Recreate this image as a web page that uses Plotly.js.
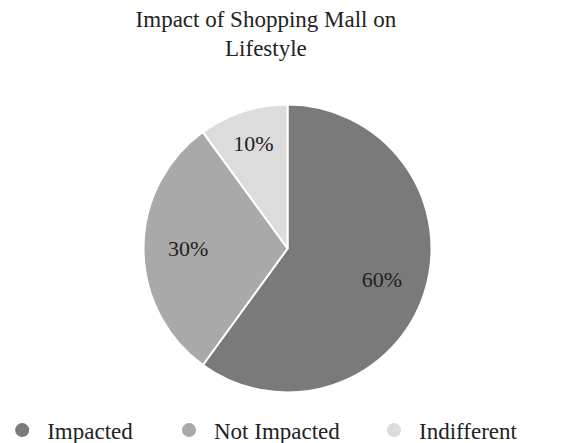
<!DOCTYPE html>
<html>
<head>
<meta charset="utf-8">
<script src="https://cdn.plot.ly/plotly-3.0.1.min.js"></script>
<style>html,body{margin:0;padding:0;background:#fff;}#chart{width:561px;height:443px;}</style>
</head>
<body>
<div id="chart"></div>
<script>
const titleText = 'Impact of Shopping Mall on<br>Lifestyle';
const labels = ['Impacted', 'Not Impacted', 'Indifferent'];
const values = [60, 30, 10];
const colors = ['#7a7a7a', '#a9a9a9', '#dcdcdc'];

const FONT = 'Liberation Serif, Times New Roman, serif';
const DOMAIN = {x: [0.2558, 0.7692], y: [0.114, 0.764]};

const traces = [{
  type: 'pie',
  labels: labels,
  values: values,
  sort: false,
  direction: 'clockwise',
  rotation: 0,
  marker: {colors: colors, line: {color: '#ffffff', width: 2}},
  textinfo: 'none',
  showlegend: false,
  hoverinfo: 'none',
  domain: DOMAIN
}, {
  type: 'pie',
  labels: labels,
  values: values,
  sort: false,
  direction: 'clockwise',
  rotation: 0,
  hole: 0.38,
  marker: {colors: labels.map(() => 'rgba(0,0,0,0)'), line: {width: 0}},
  textinfo: 'percent',
  textposition: 'inside',
  insidetextorientation: 'horizontal',
  textfont: {family: FONT, size: 22, color: '#222222'},
  showlegend: false,
  domain: DOMAIN
}];

const legendNames = ['legend', 'legend2', 'legend3'];
const legendX = [-0.005, 0.2923, 0.6578];
labels.forEach((lab, i) => {
  traces.push({
    type: 'scatter', mode: 'markers', x: [null], y: [null],
    name: lab, legend: legendNames[i], showlegend: true,
    marker: {color: colors[i], size: 14, symbol: 'circle'}
  });
});

const layout = {
  width: 561, height: 443,
  margin: {l: 0, r: 0, t: 0, b: 0, autoexpand: false},
  paper_bgcolor: '#ffffff', plot_bgcolor: '#ffffff',
  font: {family: FONT, color: '#222222'},
  title: {text: titleText, font: {family: FONT, size: 23, color: '#222222'},
          x: 0.474, xanchor: 'center', y: 0.94, yref: 'container', yanchor: 'top'},
  xaxis: {visible: false}, yaxis: {visible: false}
};
legendNames.forEach((ln, i) => {
  layout[ln] = {orientation: 'h', x: legendX[i], xanchor: 'left', y: 0.029, yanchor: 'middle',
                font: {family: FONT, size: 23, color: '#222222'}, bgcolor: 'rgba(0,0,0,0)', itemwidth: 40};
});

Plotly.newPlot('chart', traces, layout, {displayModeBar: false, staticPlot: true});
</script>
</body>
</html>
